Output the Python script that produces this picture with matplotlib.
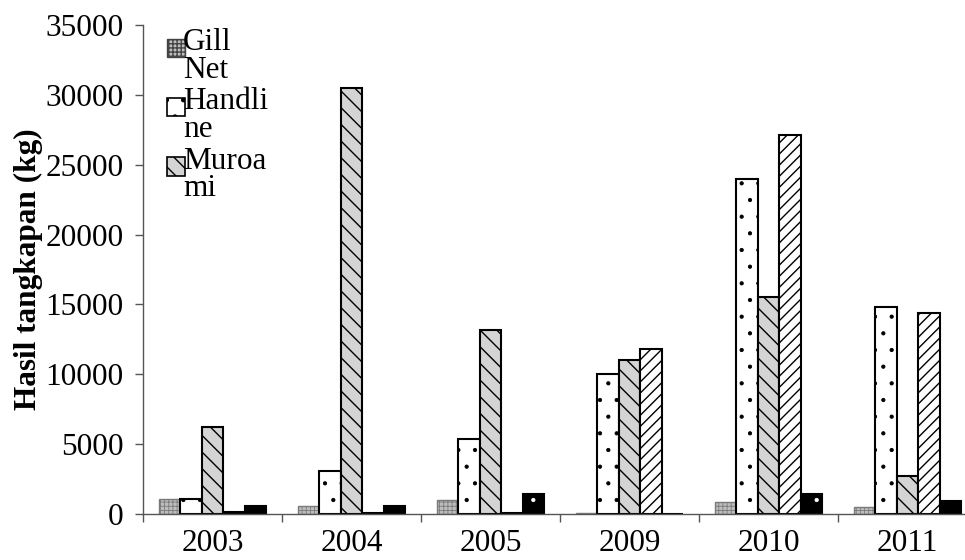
import matplotlib
matplotlib.use("Agg")
import matplotlib.pyplot as plt
import numpy as np
from matplotlib.patches import Patch, Rectangle
from matplotlib.legend_handler import HandlerPatch

years = ["2003", "2004", "2005", "2009", "2010", "2011"]
gill_net = [1100, 600, 1000, 100, 850, 500]
handline = [1100, 3100, 5400, 10000, 24000, 14800]
muroami = [6200, 30500, 13200, 11000, 15500, 2750]
series4 = [150, 100, 100, 11800, 27100, 14400]
series5 = [600, 600, 1400, 0, 1400, 900]
yticks = [0, 5000, 10000, 15000, 20000, 25000, 30000, 35000]

plt.rcParams['font.family'] = ['Liberation Serif', 'DejaVu Serif']
plt.rcParams['hatch.linewidth'] = 1.0

FS = 22.5
fig = plt.figure(figsize=(9.65, 5.6), dpi=100)
ax = fig.add_axes([0.1482, 0.0821, 0.8642, 0.8732])

x = np.arange(len(years))
w = 0.155
axc = '#555555'

with plt.rc_context({'hatch.linewidth': 0.6}):
    ax.bar(x - 2 * w, gill_net, w, facecolor='#bdbdbd', edgecolor='#7a7a7a',
           hatch='++++', linewidth=1.0)
    ax.bar(x - 1 * w, handline, w, facecolor='white', edgecolor='black',
           hatch='.', linewidth=1.5)
ax.bar(x, muroami, w, facecolor='#d4d4d4', edgecolor='black',
       hatch='\\\\', linewidth=1.5)
ax.bar(x + 1 * w, series4, w, facecolor='white', edgecolor='black',
       hatch='///', linewidth=1.5)
with plt.rc_context({'hatch.linewidth': 0.6}):
    ax.bar(x + 2 * w, series5, w, facecolor='black', edgecolor='white',
           hatch='.', linewidth=0)
ax.bar(x + 2 * w, series5, w, fill=False, edgecolor='black', linewidth=1.5)

ax.set_xlim(-0.5, len(years) - 0.5)
ax.set_ylim(0, 35000)
ax.set_yticks(yticks)
ax.set_yticklabels([str(v) for v in yticks])
ax.set_xticks(x)
ax.set_xticklabels(years)
ax.set_xticks(np.arange(len(years) + 1) - 0.5, minor=True)

for s in ['top', 'right']:
    ax.spines[s].set_visible(False)
for s in ['left', 'bottom']:
    ax.spines[s].set_color(axc)
    ax.spines[s].set_linewidth(1.0)

ax.tick_params(axis='y', direction='out', length=6, width=1, color=axc,
               labelsize=FS, pad=8)
ax.tick_params(axis='x', which='major', length=0, labelsize=FS, pad=11)
ax.tick_params(axis='x', which='minor', direction='out', length=6, width=1,
               color=axc)

ax.set_ylabel('Hasil tangkapan (kg)', fontsize=FS, fontweight='bold')
ax.yaxis.set_label_coords(-0.12, 0.5)


def top_square(legend, orig_handle, xdescent, ydescent, width, height, fontsize):
    s = 13.0
    return Rectangle((-xdescent, -ydescent + height - s - 4), s, s)


handles = [
    Patch(facecolor='#bdbdbd', edgecolor='#444444', hatch='++++', linewidth=1.0),
    Patch(facecolor='white', edgecolor='black', hatch='.', linewidth=1.2),
    Patch(facecolor='#d4d4d4', edgecolor='black', hatch='\\\\', linewidth=1.2),
]
labels = ['Gill\nNet', 'Handli\nne', 'Muroa\nmi']
leg = ax.legend(handles, labels, loc='upper left', bbox_to_anchor=(0.014, 1.02),
                frameon=False, fontsize=FS, handlelength=0.45, handleheight=2.0,
                handletextpad=0.05, labelspacing=0.08, borderaxespad=0,
                handler_map={Patch: HandlerPatch(patch_func=top_square)})
for t in leg.get_texts():
    t.set_linespacing(0.95)

fig.savefig('out.png', dpi=100)
